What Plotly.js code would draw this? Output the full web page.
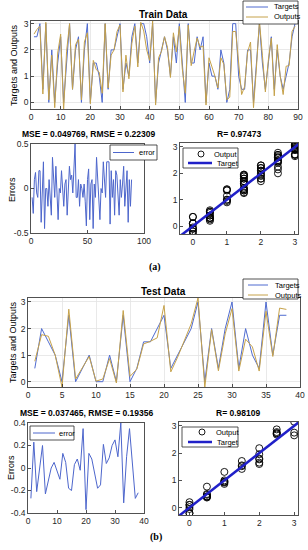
<!DOCTYPE html>
<html><head><meta charset="utf-8">
<script src="https://cdn.plot.ly/plotly-3.0.1.min.js"></script>
<style>html,body{margin:0;padding:0;background:#fff;}#chart{width:308px;height:550px;}</style>
</head><body><div id="chart"></div>
<script>
// ---------- data ----------
const trainTargets = [2.5,2.5,3,0.5,3,0,2,0,1.5,2.5, 0,1.5,3,0.5,2,2.5,0,2,3,0, 1.5,1.5,1,0,3,0.5,2,2,2.5,3, 0.5,1.5,1,2.5,3,1.5,3,3,2.5,1.5, 3,0,1.5,2,2.5,2,1,2.5,1.5,3, 1.5,0,3,1.5,1.5,2.5,2,2.5,0,1.5, 1,1,0.5,2,1.5,0,0.5,3,3,1, 0.5,0.5,2,2,0,1.5,3,1.5,0.5,1.5, 2.5,0.5,2,1,0.5,1,1.5,2.5,3];
const trainOutputs = [2.6,2.78,2.9,0.32,3.05,0.1,1.8,-0.2,1.88,2.6, -0.3,1.95,3.0,0.5,2.2,2.4,0.1,2.3,2.65,-0.05, 1.6,1.25,1.15,0.35,3.0,0.55,1.8,2.0,2.7,2.95, 0.4,1.8,0.9,2.25,2.9,1.35,3.05,2.72,2.0,1.6, 3.1,-0.1,1.7,1.95,2.5,2.1,0.95,2.65,1.92,2.9, 1.28,0.35,2.95,1.4,1.95,2.45,2.1,2.15,-0.1,1.7, 1.35,1.0,0.55,1.7,1.45,0.1,0.2,2.7,2.7,1.4, 0.3,0.6,1.9,2.3,-0.2,1.35,3.1,1.8,0.4,1.6, 2.45,0.25,2.2,1.0,0.3,1.38,1.4,2.7,2.9];
const trainErrors = [-0.1,-0.28,0.1,0.18,-0.05,-0.1,0.2,0.2,-0.38,-0.1, 0.3,-0.45,0.0,0.0,-0.2,0.1,-0.1,-0.3,0.35,0.05, -0.1,0.25,-0.15,-0.35,0.0,-0.05,0.2,0.0,-0.2,0.05, 0.1,-0.3,0.1,0.25,0.1,0.15,-0.05,0.28,0.5,-0.1, -0.1,0.1,-0.2,0.05,0.0,-0.1,0.05,-0.15,-0.42,0.1, 0.22,-0.35,0.05,0.1,-0.45,0.05,-0.1,0.35,0.1,-0.2, -0.35,0.0,-0.05,0.3,0.05,-0.1,0.3,0.3,0.3,-0.4, 0.2,-0.1,0.1,-0.3,0.2,0.15,-0.1,-0.3,0.1,-0.1, 0.05,0.25,-0.2,0.0,0.2,-0.38,0.1,-0.2,0.1];

const testTargets = [0.5,2,1.5,1,0,2.5,0,0.5,1,0, 0,1,0,2.5,0,0.5,1.5,1.5,2,2.5, 0.5,1,1.5,2,3,0,2,0.5,2,3, 0.5,2,1,0.5,3,1,2.5,2.5];
const testOutputs = [0.77,1.77,1.71,1.0,-0.2,2.73,0.1,0.5,0.95,0.02, 0.1,0.87,-0.05,2.68,0.2,0.47,1.42,1.52,1.65,2.87, 0.37,0.92,1.55,2.18,3.15,-0.21,1.96,0.41,1.8,2.75, 0.4,1.6,1.31,0.4,2.65,0.95,2.77,2.72];
const testErrors = [-0.27,0.23,-0.21,0.0,0.2,-0.23,-0.1,0.0,0.05,-0.02, -0.1,0.13,0.05,-0.18,-0.2,0.03,0.08,-0.02,0.35,-0.37, 0.13,0.08,-0.05,-0.18,-0.15,0.21,0.04,0.09,0.2,0.25, 0.1,0.4,-0.31,0.1,0.35,0.05,-0.27,-0.22];

const targetLine = [-0.5, 3.5];

const titles = ["Train Data", "MSE = 0.049769, RMSE = 0.22309", "R= 0.97473",
                "Test Data", "MSE = 0.037465, RMSE = 0.19356", "R= 0.98109"];
const seriesNames = ["Targets", "Outputs", "error", "Output", "Target"];
const yTicks03 = [0, 1, 2, 3];
const errTicksA = [-0.5, 0, 0.5];
const errTicksALabels = ["-0.5", "0", "0.5"];
const errTicksB = [-0.4, -0.2, 0, 0.2, 0.4];
const errTicksBLabels = ["-0.4", "-0.2", "0", "0.2", "0.4"];

// ---------- build ----------
const idx = a => a.map((_, i) => i + 1);
const C_T = '#4f6bd0', C_O = '#c6a24a', C_E = '#4d66cc', C_FIT = '#2020c8';
const F = 'Liberation Sans, Arial, sans-serif';

const traces = [
  {x: idx(trainTargets), y: trainTargets, type:'scatter', mode:'lines', name:seriesNames[0], line:{color:C_T, width:1}, xaxis:'x', yaxis:'y'},
  {x: idx(trainOutputs), y: trainOutputs, type:'scatter', mode:'lines', name:seriesNames[1], line:{color:C_O, width:1}, xaxis:'x', yaxis:'y'},
  {x: idx(trainErrors), y: trainErrors, type:'scatter', mode:'lines', name:seriesNames[2], line:{color:C_E, width:1}, xaxis:'x2', yaxis:'y2'},
  {x: trainTargets, y: trainOutputs, type:'scatter', mode:'markers', name:seriesNames[3], marker:{symbol:'circle-open', size:7, color:'#000', line:{width:0.9}}, xaxis:'x3', yaxis:'y3'},
  {x: targetLine, y: targetLine, type:'scatter', mode:'lines', name:seriesNames[4], line:{color:C_FIT, width:2.5}, xaxis:'x3', yaxis:'y3'},
  {x: idx(testTargets), y: testTargets, type:'scatter', mode:'lines', name:seriesNames[0], line:{color:C_T, width:1}, xaxis:'x4', yaxis:'y4'},
  {x: idx(testOutputs), y: testOutputs, type:'scatter', mode:'lines', name:seriesNames[1], line:{color:C_O, width:1}, xaxis:'x4', yaxis:'y4'},
  {x: idx(testErrors), y: testErrors, type:'scatter', mode:'lines', name:seriesNames[2], line:{color:C_E, width:1}, xaxis:'x5', yaxis:'y5'},
  {x: testTargets, y: testOutputs, type:'scatter', mode:'markers', name:seriesNames[3], marker:{symbol:'circle-open', size:7, color:'#000', line:{width:0.9}}, xaxis:'x6', yaxis:'y6'},
  {x: targetLine, y: targetLine, type:'scatter', mode:'lines', name:seriesNames[4], line:{color:C_FIT, width:2.5}, xaxis:'x6', yaxis:'y6'}
];

function ax(domain, range, anchor, extra) {
  return Object.assign({domain, range, anchor, showline:true, mirror:true, linecolor:'#262626', linewidth:0.8,
    ticks:'inside', ticklen:3, tickcolor:'#262626', tickwidth:0.8, showgrid:false, zeroline:false,
    tickfont:{family:F, size:8.5, color:'#262626'}, fixedrange:true}, extra||{});
}
const grid = {showgrid:true, gridcolor:'#e3e3e3', gridwidth:0.8};
const px = v => v/308, py = v => 1 - v/550;

function ann(text, x, y, size, bold, extra) {
  return Object.assign({text: bold ? '<b>'+text+'</b>' : text, x:px(x), y:py(y), xref:'paper', yref:'paper', showarrow:false,
    xanchor:'center', yanchor:'middle', font:{family:F, size, color:'#000'}}, extra||{});
}

// hand-drawn legend boxes (layout decorations)
const shapes = [], legendAnns = [];
function legendBox(x0, y0, x1, y1, entries) {
  shapes.push({type:'rect', xref:'paper', yref:'paper', x0:px(x0), x1:px(x1), y0:py(y1), y1:py(y0),
    fillcolor:'#fff', line:{color:'#262626', width:0.8}, layer:'above'});
  entries.forEach(e => {
    if (e.kind === 'line') {
      shapes.push({type:'line', xref:'paper', yref:'paper', x0:px(e.s0), x1:px(e.s1), y0:py(e.y), y1:py(e.y),
        line:{color:e.color, width:e.width}, layer:'above'});
    } else {
      const c = (e.s0 + e.s1) / 2;
      shapes.push({type:'circle', xref:'paper', yref:'paper', x0:px(c-3), x1:px(c+3), y0:py(e.y+3), y1:py(e.y-3),
        line:{color:'#000', width:0.9}, layer:'above'});
    }
    legendAnns.push({text:e.label, x:px(e.tx), y:py(e.y), xref:'paper', yref:'paper', showarrow:false,
      xanchor:'left', yanchor:'middle', font:{family:F, size:7.5, color:'#000'}});
  });
}
legendBox(243, 1, 298, 24, [
  {kind:'line', s0:246, s1:268, y:7, color:C_T, width:1, tx:272, label:seriesNames[0]},
  {kind:'line', s0:246, s1:268, y:17, color:C_O, width:1, tx:272, label:seriesNames[1]}]);
legendBox(110, 145, 157, 160, [
  {kind:'line', s0:113, s1:134, y:152.5, color:C_E, width:1, tx:137, label:seriesNames[2]}]);
legendBox(183, 148, 238, 168, [
  {kind:'circle', s0:196, s1:206, y:154, tx:212, label:seriesNames[3]},
  {kind:'line', s0:188, s1:212, y:163, color:C_FIT, width:2.5, tx:215, label:seriesNames[4]}]);
legendBox(243, 279, 298, 299, [
  {kind:'line', s0:248, s1:268, y:285, color:C_T, width:1, tx:273, label:seriesNames[0]},
  {kind:'line', s0:248, s1:268, y:295, color:C_O, width:1, tx:273, label:seriesNames[1]}]);
legendBox(30, 426, 74, 440, [
  {kind:'line', s0:33, s1:55, y:433, color:C_E, width:1, tx:57, label:seriesNames[2]}]);
legendBox(182, 427, 238, 447, [
  {kind:'circle', s0:197, s1:207, y:432, tx:214, label:seriesNames[3]},
  {kind:'line', s0:188, s1:212, y:442, color:C_FIT, width:2.5, tx:215, label:seriesNames[4]}]);

const layout = {
  width:308, height:550, margin:{l:0, r:0, t:0, b:0}, paper_bgcolor:'#fff', plot_bgcolor:'#fff', showlegend:false,
  xaxis: ax([px(31), px(298)], [0, 90], 'y', Object.assign({dtick:10}, grid)),
  yaxis: ax([py(109), py(21)], [-0.25, 3.1], 'x', Object.assign({tickvals:yTicks03}, grid)),
  xaxis2: ax([px(31), px(144)], [0, 100], 'y2', {dtick:50}),
  yaxis2: ax([py(233), py(144)], [-0.5, 0.5], 'x2', {tickvals:errTicksA, ticktext:errTicksALabels}),
  xaxis3: ax([px(180), px(298)], [-0.38, 3.09], 'y3', {tickvals:yTicks03}),
  yaxis3: ax([py(234), py(143)], [-0.3, 3.15], 'x3', {tickvals:yTicks03}),
  xaxis4: ax([px(28), px(300)], [0, 40], 'y4', Object.assign({dtick:5}, grid)),
  yaxis4: ax([py(387), py(298)], [-0.2, 3.15], 'x4', Object.assign({tickvals:yTicks03}, grid)),
  xaxis5: ax([px(28), px(144)], [0, 40], 'y5', {dtick:10}),
  yaxis5: ax([py(513), py(423)], [-0.4, 0.4], 'x5', {tickvals:errTicksB, ticktext:errTicksBLabels}),
  xaxis6: ax([px(179), px(298)], [-0.3, 3.11], 'y6', {tickvals:yTicks03}),
  yaxis6: ax([py(515), py(422)], [-0.27, 3.14], 'x6', {tickvals:yTicks03}),
  shapes,
  annotations: [
    ann(titles[0], 163, 14, 10, true),
    ann(titles[1], 89, 134, 8.5, true),
    ann(titles[2], 239, 134, 8.5, true),
    ann(titles[3], 163, 291, 10, true),
    ann(titles[4], 87, 413, 8.5, true),
    ann(titles[5], 238, 413, 8.5, true),
    ann('Targets and Outputs', 14, 65, 9, false, {textangle:-90}),
    ann('Errors', 12, 190, 9, false, {textangle:-90}),
    ann('Targets and Outputs', 13, 342, 9, false, {textangle:-90}),
    ann('Errors', 11, 468, 9, false, {textangle:-90}),
    {text:'<b>(a)</b>', x:px(155), y:py(267), xref:'paper', yref:'paper', showarrow:false, font:{family:'Liberation Serif, Times New Roman, serif', size:10, color:'#000'}},
    {text:'<b>(b)</b>', x:px(156), y:py(545), xref:'paper', yref:'paper', showarrow:false, font:{family:'Liberation Serif, Times New Roman, serif', size:10, color:'#000'}}
  ].concat(legendAnns)
};

Plotly.newPlot('chart', traces, layout, {staticPlot:true, displayModeBar:false});
</script></body></html>
